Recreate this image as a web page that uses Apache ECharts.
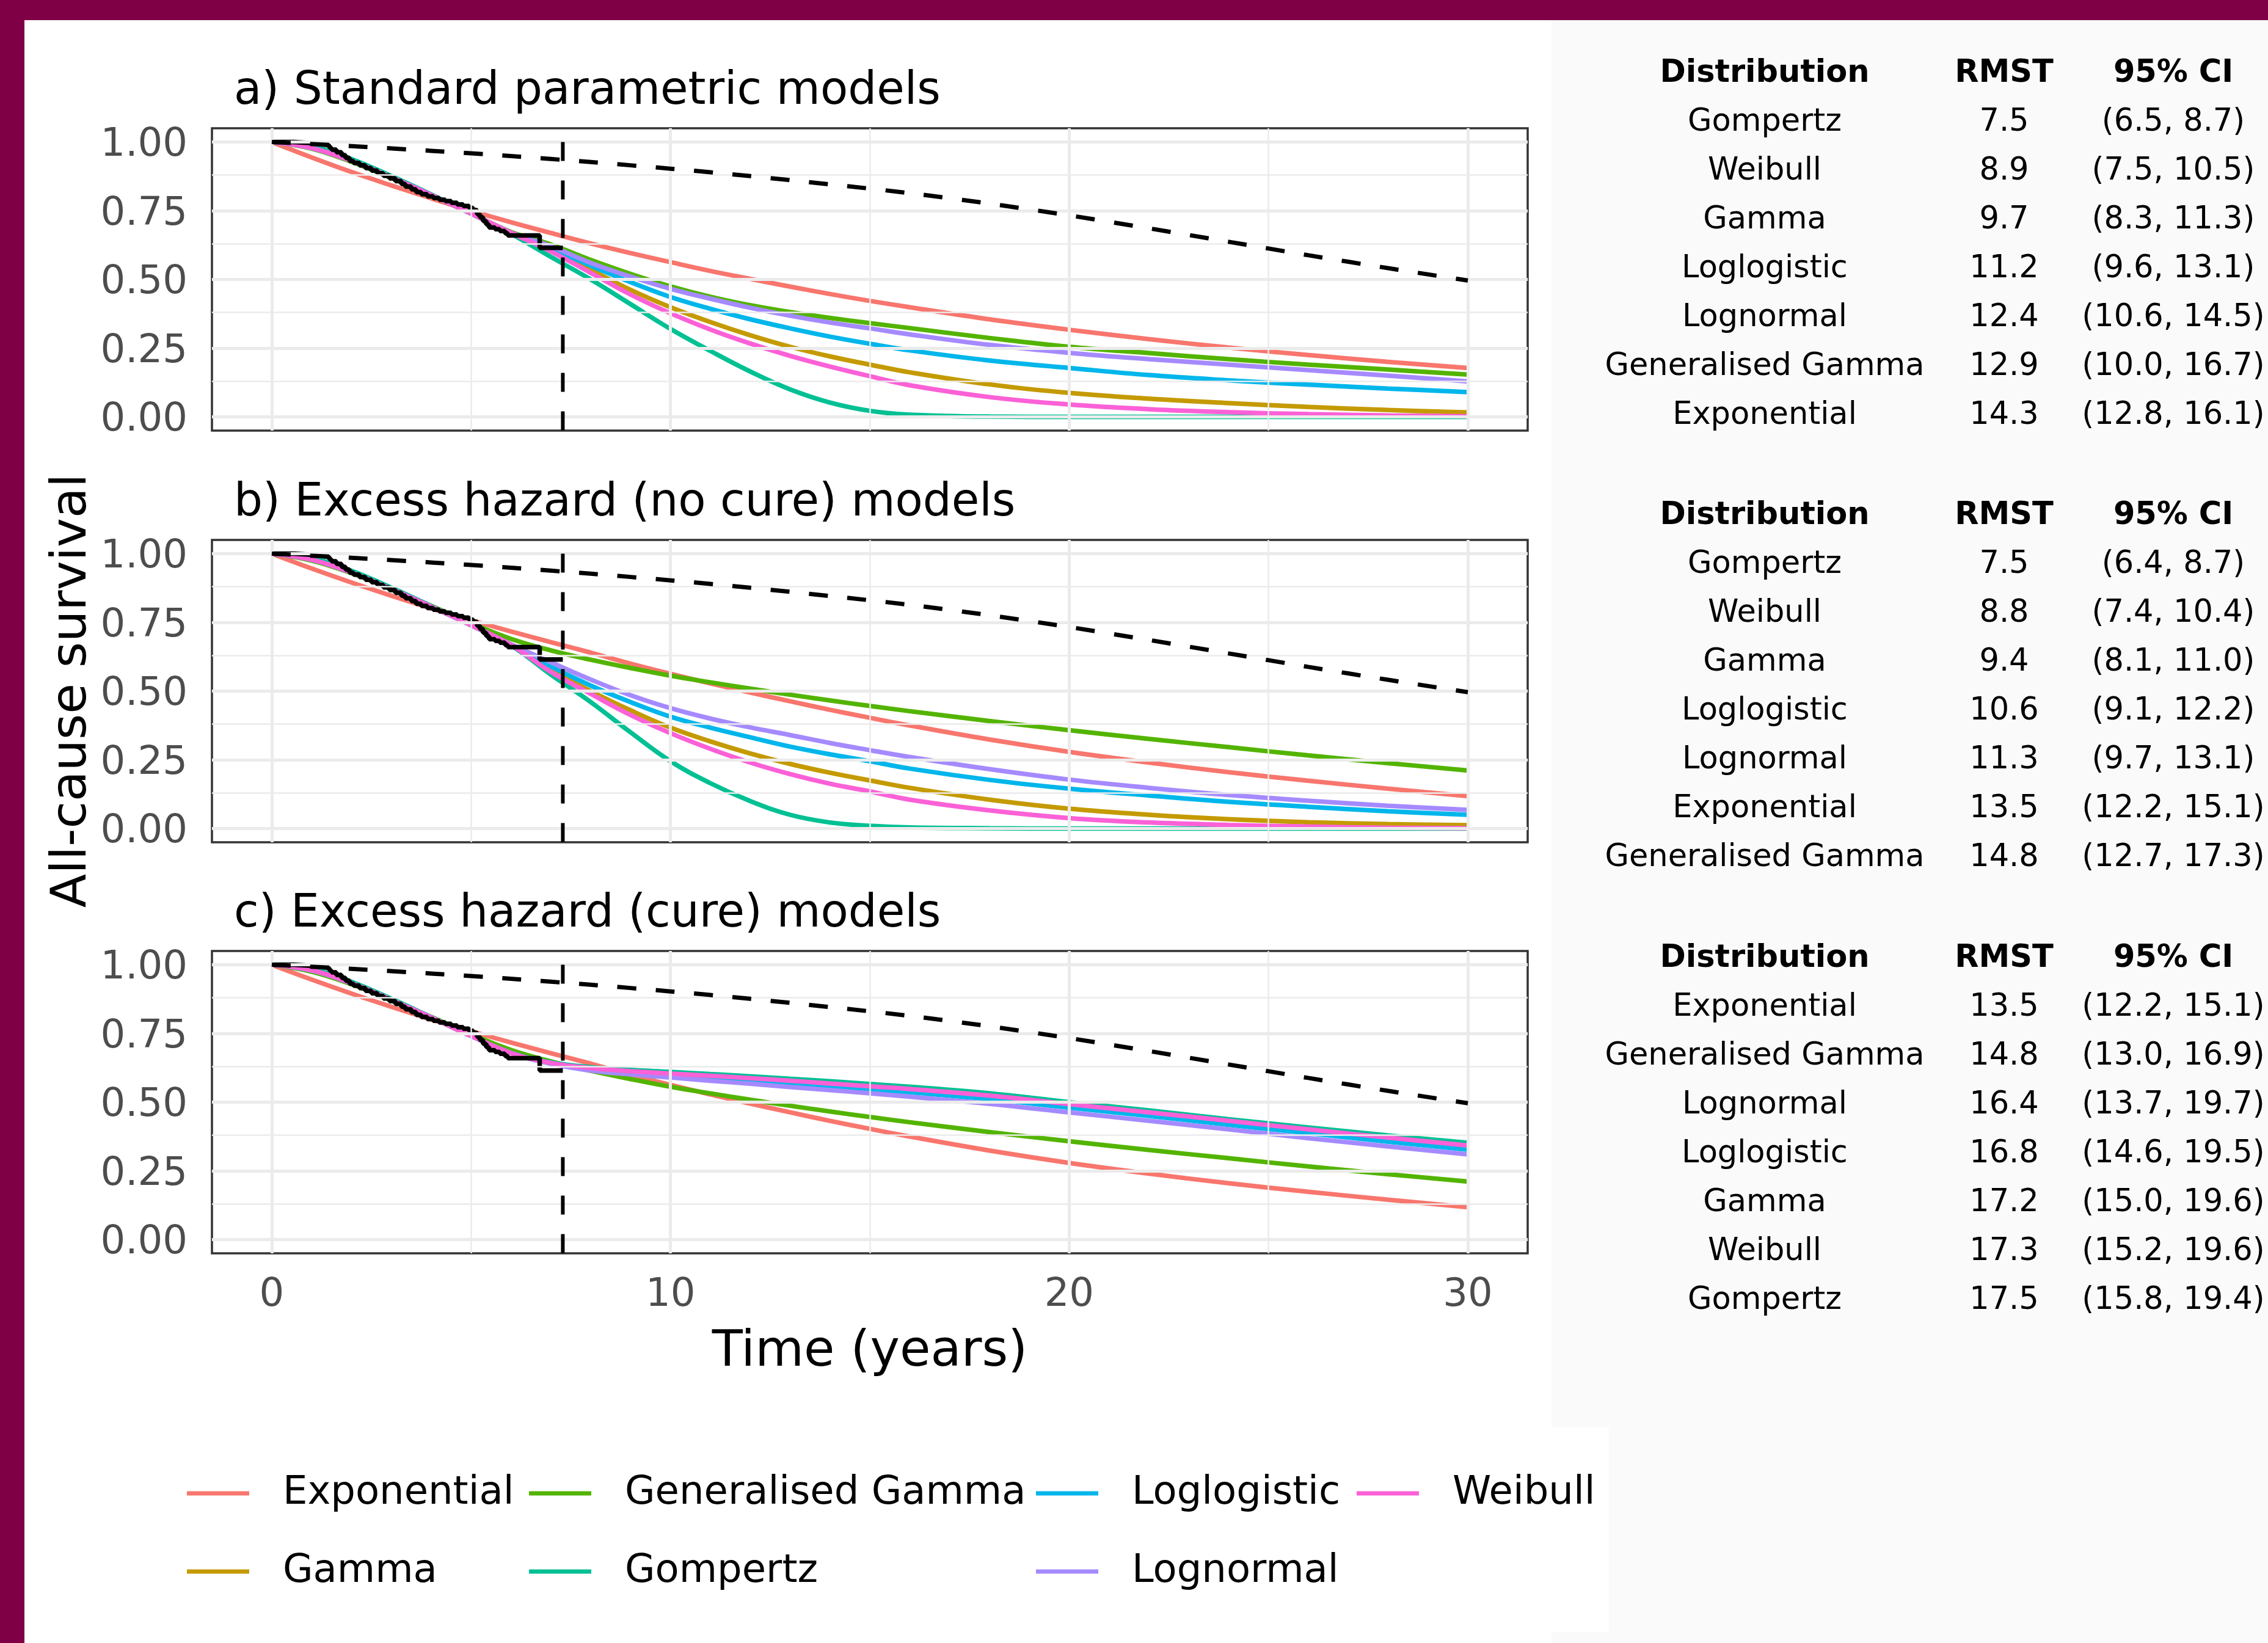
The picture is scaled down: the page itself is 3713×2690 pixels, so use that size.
<!DOCTYPE html>
<html>
<head>
<meta charset="utf-8">
<script src="https://cdn.jsdelivr.net/npm/echarts@6/dist/echarts.min.js"></script>
<style>
  html, body { margin: 0; padding: 0; overflow: hidden; background: #800046; }
  .layer { position: absolute; }
  #plotBg { left: 40px; top: 33px; width: 2500px; height: 2657px; background: #ffffff; }
  #tableBg { left: 2540px; top: 33px; width: 1173px; height: 2657px; background: #fafafa; }
  #legendBg { left: 40px; top: 2337px; width: 2594px; height: 335px; background: #ffffff; }
  #chart { left: 0; top: 0; width: 3713px; height: 2690px; }
</style>
</head>
<body>
<div id="plotBg" class="layer"></div>
<div id="tableBg" class="layer"></div>
<div id="legendBg" class="layer"></div>
<div id="chart" class="layer"></div>
<script>
// ---- model names and colours ----
const modelNames = ['Exponential', 'Gamma', 'Generalised Gamma', 'Gompertz', 'Loglogistic', 'Lognormal', 'Weibull'];
const modelColors = ['#F8766D', '#C49A00', '#53B400', '#00C094', '#00B6EB', '#A58AFF', '#FB61D7'];

// ---- time grid (years) for the fitted survival curves ----
const years = [0, 1, 2, 3, 4, 5, 6, 7, 8, 9, 10, 11, 12, 13, 14, 15, 16, 18, 20, 22, 24, 26, 28, 30];

// a) standard parametric models
const stdExponential = [1, 0.944, 0.891, 0.842, 0.795, 0.750, 0.708, 0.669, 0.631, 0.596, 0.563, 0.531, 0.502, 0.474, 0.447, 0.422, 0.399, 0.355, 0.317, 0.283, 0.252, 0.225, 0.200, 0.178];
const stdGamma = [1, 0.978, 0.931, 0.871, 0.807, 0.740, 0.670, 0.608, 0.535, 0.462, 0.399, 0.345, 0.297, 0.255, 0.220, 0.190, 0.162, 0.118, 0.087, 0.066, 0.050, 0.036, 0.025, 0.016];
const stdGenGamma = [1, 0.976, 0.928, 0.869, 0.806, 0.740, 0.673, 0.627, 0.571, 0.520, 0.475, 0.437, 0.406, 0.381, 0.360, 0.341, 0.323, 0.287, 0.255, 0.232, 0.210, 0.190, 0.172, 0.154];
const stdGompertz = [1, 0.984, 0.938, 0.876, 0.809, 0.739, 0.666, 0.582, 0.500, 0.410, 0.320, 0.240, 0.165, 0.100, 0.052, 0.022, 0.008, 0.001, 0, 0, 0, 0, 0, 0];
const stdLoglogistic = [1, 0.978, 0.931, 0.871, 0.807, 0.740, 0.670, 0.614, 0.550, 0.490, 0.436, 0.393, 0.355, 0.322, 0.292, 0.266, 0.242, 0.205, 0.178, 0.152, 0.133, 0.117, 0.103, 0.090];
const stdLognormal = [1, 0.978, 0.931, 0.871, 0.807, 0.740, 0.670, 0.621, 0.560, 0.510, 0.466, 0.430, 0.397, 0.368, 0.343, 0.322, 0.300, 0.262, 0.233, 0.210, 0.190, 0.170, 0.150, 0.129];
const stdWeibull = [1, 0.978, 0.931, 0.871, 0.807, 0.740, 0.670, 0.602, 0.524, 0.445, 0.377, 0.318, 0.267, 0.222, 0.183, 0.148, 0.115, 0.072, 0.045, 0.028, 0.017, 0.010, 0.005, 0.002];

// b) excess hazard models without cure
const ehExponential = [1, 0.946, 0.895, 0.847, 0.801, 0.758, 0.717, 0.678, 0.640, 0.600, 0.563, 0.528, 0.495, 0.463, 0.432, 0.403, 0.375, 0.324, 0.279, 0.240, 0.205, 0.174, 0.145, 0.118];
const ehGamma = [1, 0.978, 0.931, 0.871, 0.807, 0.740, 0.668, 0.578, 0.500, 0.430, 0.367, 0.317, 0.273, 0.235, 0.203, 0.175, 0.148, 0.105, 0.072, 0.050, 0.034, 0.023, 0.016, 0.012];
const ehGenGamma = [1, 0.975, 0.929, 0.871, 0.810, 0.747, 0.690, 0.648, 0.614, 0.584, 0.556, 0.532, 0.509, 0.487, 0.466, 0.446, 0.427, 0.391, 0.358, 0.326, 0.296, 0.266, 0.238, 0.211];
const ehGompertz = [1, 0.984, 0.938, 0.876, 0.809, 0.739, 0.666, 0.560, 0.460, 0.350, 0.245, 0.165, 0.100, 0.050, 0.022, 0.010, 0.004, 0.001, 0, 0, 0, 0, 0, 0];
const ehLoglogistic = [1, 0.978, 0.931, 0.871, 0.807, 0.740, 0.670, 0.590, 0.520, 0.460, 0.407, 0.367, 0.332, 0.298, 0.270, 0.245, 0.218, 0.177, 0.145, 0.120, 0.097, 0.079, 0.063, 0.050];
const ehLognormal = [1, 0.978, 0.931, 0.871, 0.807, 0.740, 0.670, 0.605, 0.542, 0.485, 0.438, 0.400, 0.368, 0.340, 0.311, 0.285, 0.260, 0.216, 0.178, 0.148, 0.122, 0.101, 0.083, 0.068];
const ehWeibull = [1, 0.978, 0.931, 0.871, 0.807, 0.740, 0.668, 0.570, 0.490, 0.413, 0.347, 0.290, 0.240, 0.198, 0.163, 0.135, 0.105, 0.066, 0.038, 0.022, 0.013, 0.007, 0.003, 0.001];

// c) excess hazard cure models
const cureExponential = [1, 0.946, 0.895, 0.847, 0.801, 0.758, 0.717, 0.678, 0.640, 0.600, 0.563, 0.528, 0.495, 0.463, 0.432, 0.403, 0.375, 0.324, 0.279, 0.240, 0.205, 0.174, 0.145, 0.118];
const cureGamma = [1, 0.979, 0.932, 0.872, 0.808, 0.741, 0.679, 0.642, 0.623, 0.612, 0.603, 0.594, 0.585, 0.576, 0.566, 0.556, 0.545, 0.521, 0.490, 0.460, 0.429, 0.398, 0.367, 0.338];
const cureGenGamma = [1, 0.975, 0.929, 0.871, 0.810, 0.747, 0.690, 0.648, 0.614, 0.584, 0.556, 0.532, 0.509, 0.487, 0.466, 0.446, 0.427, 0.391, 0.358, 0.326, 0.296, 0.266, 0.238, 0.211];
const cureGompertz = [1, 0.984, 0.938, 0.876, 0.809, 0.741, 0.680, 0.645, 0.627, 0.617, 0.610, 0.602, 0.594, 0.585, 0.576, 0.566, 0.556, 0.532, 0.500, 0.470, 0.438, 0.408, 0.379, 0.352];
const cureLoglogistic = [1, 0.979, 0.932, 0.872, 0.808, 0.741, 0.679, 0.641, 0.620, 0.608, 0.598, 0.588, 0.578, 0.568, 0.558, 0.547, 0.536, 0.511, 0.480, 0.450, 0.418, 0.387, 0.356, 0.327];
const cureLognormal = [1, 0.979, 0.932, 0.872, 0.808, 0.741, 0.679, 0.640, 0.615, 0.601, 0.590, 0.578, 0.567, 0.555, 0.544, 0.532, 0.520, 0.494, 0.463, 0.432, 0.401, 0.369, 0.339, 0.310];
const cureWeibull = [1, 0.980, 0.933, 0.872, 0.808, 0.741, 0.679, 0.643, 0.624, 0.613, 0.604, 0.596, 0.587, 0.578, 0.568, 0.558, 0.548, 0.524, 0.493, 0.463, 0.432, 0.401, 0.371, 0.342];

// ---- Kaplan-Meier estimate (observed follow-up) ----
const kmYears = [0, 0.55, 0.8, 1.0, 1.2, 1.35, 1.45, 1.5, 1.62, 1.75, 1.85, 1.95, 2.05, 2.2, 2.35, 2.5, 2.65, 2.8, 2.95, 3.1, 3.25, 3.35, 3.5, 3.62, 3.75, 3.9, 4.05, 4.2, 4.35, 4.5, 4.65, 4.8, 4.95, 5.05, 5.15, 5.22, 5.3, 5.38, 5.45, 5.6, 5.72, 5.85, 5.92, 6.72, 7.3];
const kmSurvival = [1, 0.998, 0.996, 0.994, 0.990, 0.986, 0.979, 0.972, 0.963, 0.952, 0.942, 0.931, 0.924, 0.915, 0.905, 0.896, 0.886, 0.877, 0.868, 0.858, 0.847, 0.838, 0.828, 0.818, 0.810, 0.802, 0.796, 0.790, 0.785, 0.779, 0.773, 0.767, 0.760, 0.752, 0.738, 0.726, 0.712, 0.700, 0.689, 0.683, 0.676, 0.668, 0.660, 0.615, 0.615];

// ---- general population (expected) survival ----
const popYears = [0, 2, 4, 6, 8, 10, 12, 14, 16, 18, 20, 22, 24, 26, 28, 30];
const popSurvival = [1.000, 0.985, 0.968, 0.949, 0.927, 0.903, 0.876, 0.846, 0.814, 0.776, 0.733, 0.686, 0.637, 0.588, 0.541, 0.496];

// end of observed follow-up (years)
const followUpEnd = 7.3;

// ---- axis ticks ----
const xTicks = [0, 10, 20, 30];
const xMinorGrid = [5, 15, 25];
const yTicks = [0, 0.25, 0.5, 0.75, 1];
const yMinorGrid = [0.125, 0.375, 0.625, 0.875];

// ---- panel titles ----
const panelTitles = ['a) Standard parametric models', 'b) Excess hazard (no cure) models', 'c) Excess hazard (cure) models'];

// ---- RMST tables ----
const tableHeader = ['Distribution', 'RMST', '95% CI'];
const stdTableDist = ['Gompertz', 'Weibull', 'Gamma', 'Loglogistic', 'Lognormal', 'Generalised Gamma', 'Exponential'];
const stdTableRmst = [7.5, 8.9, 9.7, 11.2, 12.4, 12.9, 14.3];
const stdTableCi = ['(6.5, 8.7)', '(7.5, 10.5)', '(8.3, 11.3)', '(9.6, 13.1)', '(10.6, 14.5)', '(10.0, 16.7)', '(12.8, 16.1)'];
const ehTableDist = ['Gompertz', 'Weibull', 'Gamma', 'Loglogistic', 'Lognormal', 'Exponential', 'Generalised Gamma'];
const ehTableRmst = [7.5, 8.8, 9.4, 10.6, 11.3, 13.5, 14.8];
const ehTableCi = ['(6.4, 8.7)', '(7.4, 10.4)', '(8.1, 11.0)', '(9.1, 12.2)', '(9.7, 13.1)', '(12.2, 15.1)', '(12.7, 17.3)'];
const cureTableDist = ['Exponential', 'Generalised Gamma', 'Lognormal', 'Loglogistic', 'Gamma', 'Weibull', 'Gompertz'];
const cureTableRmst = [13.5, 14.8, 16.4, 16.8, 17.2, 17.3, 17.5];
const cureTableCi = ['(12.2, 15.1)', '(13.0, 16.9)', '(13.7, 19.7)', '(14.6, 19.5)', '(15.0, 19.6)', '(15.2, 19.6)', '(15.8, 19.4)'];

// ---------------------------------------------------------------
const FONT = 'DejaVu Sans';
const panels = [
  [stdExponential, stdGamma, stdGenGamma, stdGompertz, stdLoglogistic, stdLognormal, stdWeibull],
  [ehExponential, ehGamma, ehGenGamma, ehGompertz, ehLoglogistic, ehLognormal, ehWeibull],
  [cureExponential, cureGamma, cureGenGamma, cureGompertz, cureLoglogistic, cureLognormal, cureWeibull]
];
const tables = [
  [stdTableDist, stdTableRmst, stdTableCi],
  [ehTableDist, ehTableRmst, ehTableCi],
  [cureTableDist, cureTableRmst, cureTableCi]
];

const gridTops = [210, 884, 1557];
const gridLeft = 347, gridWidth = 2154, gridHeight = 495;
const pairs = (xs, ys) => xs.map((x, i) => [x, ys[i]]);

const grid = gridTops.map(top => ({
  left: gridLeft, top: top, width: gridWidth, height: gridHeight,
  show: true, backgroundColor: '#ffffff', borderColor: '#333333', borderWidth: 3.5
}));

const xAxis = gridTops.map((_, i) => ({
  type: 'value', gridIndex: i, min: -1.5, max: 31.5,
  axisLine: { show: false },
  splitLine: { show: false },
  axisTick: { show: i === 2, customValues: xTicks, length: 18, lineStyle: { color: '#333333', width: 4 } },
  axisLabel: { show: i === 2, customValues: xTicks, margin: 37, color: '#4d4d4d', fontSize: 64, fontFamily: FONT }
}));

const yAxis = gridTops.map((_, i) => ({
  type: 'value', gridIndex: i, min: -0.05, max: 1.05,
  axisLine: { show: false },
  splitLine: { show: false },
  axisTick: { show: true, customValues: yTicks, length: 20, lineStyle: { color: '#333333', width: 4 } },
  axisLabel: { show: true, customValues: yTicks, margin: 40, color: '#4d4d4d', fontSize: 64, fontFamily: FONT,
    verticalAlign: 'top', lineHeight: 12,
    formatter: v => Number(v).toFixed(2) }
}));

const series = [];
gridTops.forEach((_, p) => {
  // background grid lines
  const gl = [];
  xMinorGrid.forEach(v => gl.push({ xAxis: v, lineStyle: { width: 2.5 } }));
  yMinorGrid.forEach(v => gl.push({ yAxis: v, lineStyle: { width: 2.5 } }));
  xTicks.forEach(v => gl.push({ xAxis: v, lineStyle: { width: 5 } }));
  yTicks.forEach(v => gl.push({ yAxis: v, lineStyle: { width: 5 } }));
  series.push({
    type: 'line', xAxisIndex: p, yAxisIndex: p, z: 1, silent: true,
    data: [[0, 1]], showSymbol: false, symbol: 'none', lineStyle: { opacity: 0 },
    markLine: {
      silent: true, animation: false, symbol: ['none', 'none'], label: { show: false },
      lineStyle: { type: 'solid', color: '#ebebeb' },
      emphasis: { disabled: true },
      data: gl
    }
  });
  // fitted model curves
  panels[p].forEach((vals, m) => {
    series.push({
      type: 'line', name: modelNames[m], xAxisIndex: p, yAxisIndex: p, z: 3,
      color: modelColors[m],
      data: pairs(years, vals), showSymbol: false, symbol: 'none',
      smooth: 0.4,
      lineStyle: { width: 7.5, color: modelColors[m] },
      silent: true
    });
  });
  // Kaplan-Meier
  series.push({
    type: 'line', xAxisIndex: p, yAxisIndex: p, z: 4, step: 'end',
    data: pairs(kmYears, kmSurvival), showSymbol: false, symbol: 'none',
    lineStyle: { width: 7.5, color: '#000000' }, silent: true
  });
  // general population survival
  series.push({
    type: 'line', xAxisIndex: p, yAxisIndex: p, z: 5,
    data: pairs(popYears, popSurvival), showSymbol: false, symbol: 'none', smooth: 0.3,
    lineStyle: { width: 7, color: '#000000', type: [31, 32], cap: 'butt' }, silent: true
  });
  // end of follow-up marker
  series.push({
    type: 'line', xAxisIndex: p, yAxisIndex: p, z: 5,
    data: [[followUpEnd, 1], [followUpEnd, -0.05]], showSymbol: false, symbol: 'none',
    lineStyle: { width: 6, color: '#000000', type: [31, 32], cap: 'butt' }, silent: true
  });
});

// legend: two rows, column-major order
const legendCols = [306, 866, 1696, 2221];
const legendRows = [2445, 2573];
const legendLayout = [
  ['Exponential', 0, 0], ['Gamma', 0, 1],
  ['Generalised Gamma', 1, 0], ['Gompertz', 1, 1],
  ['Loglogistic', 2, 0], ['Lognormal', 2, 1],
  ['Weibull', 3, 0]
];
const legend = legendLayout.map(([name, c, r]) => ({
  data: [name], left: legendCols[c], top: legendRows[r] - 35,
  orient: 'horizontal', padding: 0, itemGap: 0,
  icon: 'rect', itemWidth: 102, itemHeight: 7, selectedMode: false,
  textStyle: { fontSize: 64, fontFamily: FONT, color: '#000000', padding: [0, 0, 0, 50], lineHeight: 70 }
}));

// text elements: titles, axis titles, tables
const txt = (text, x, y, size, opts = {}) => ({
  type: 'text', x: x, y: y, rotation: opts.rotation || 0, silent: true, z: 10,
  style: {
    text: text, x: 0, y: 0, fill: opts.fill || '#000000',
    fontSize: size, fontFamily: FONT, fontWeight: opts.weight || 'normal',
    align: opts.align || 'left', textAlign: opts.align || 'left',
    verticalAlign: 'middle', textVerticalAlign: 'middle'
  }
});

const graphic = [];
const titleMid = [151, 825, 1498];
panelTitles.forEach((t, i) => graphic.push(txt(t, 383, titleMid[i], 74)));
graphic.push(txt('Time (years)', 1424, 2215, 82, { align: 'center' }));
graphic.push(txt('All-cause survival', 119, 1131, 81, { align: 'center', rotation: Math.PI / 2 }));

const tableCols = [2889, 3281, 3558];
const tableHeadY = [121, 845, 1570];
const rowStep = 80;
tables.forEach(([dist, rmst, ci], k) => {
  tableHeader.forEach((h, c) => graphic.push(txt(h, tableCols[c], tableHeadY[k], 51, { align: 'center', weight: 'bold' })));
  dist.forEach((d, r) => {
    const y = tableHeadY[k] + rowStep * (r + 1);
    graphic.push(txt(d, tableCols[0], y, 51, { align: 'center' }));
    graphic.push(txt(rmst[r].toFixed(1), tableCols[1], y, 51, { align: 'center' }));
    graphic.push(txt(ci[r], tableCols[2], y, 51, { align: 'center' }));
  });
});

const chart = echarts.init(document.getElementById('chart'), null, { renderer: 'canvas', width: 3713, height: 2690 });
chart.setOption({
  animation: false,
  backgroundColor: 'transparent',
  grid, xAxis, yAxis, series, legend, graphic
});
</script>
</body>
</html>
